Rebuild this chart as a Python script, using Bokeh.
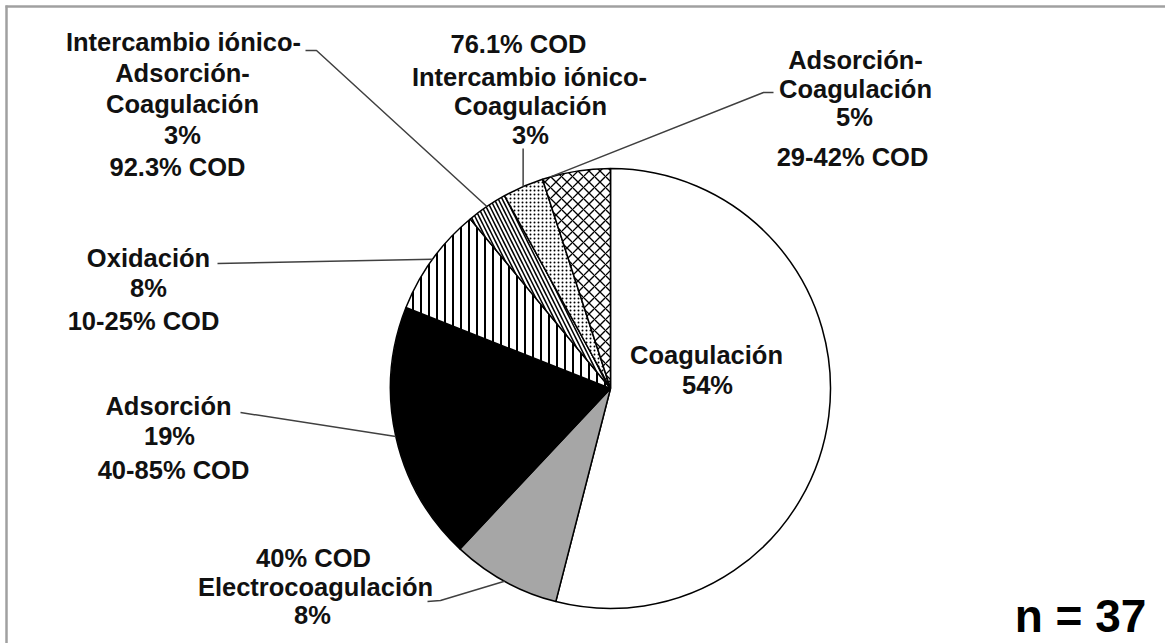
import math
from bokeh.plotting import figure
from bokeh.models import Range1d, ColumnDataSource
from bokeh.core.properties import value
from bokeh.embed import file_html
from bokeh.resources import INLINE

# ---------------- data ----------------
categories = ["Coagulación", "Electrocoagulación", "Adsorción", "Oxidación",
              "Intercambio iónico-Adsorción-Coagulación",
              "Intercambio iónico-Coagulación", "Adsorción-Coagulación"]
shares = [54, 8, 19, 8, 3, 3, 5]
cod = ["", "40% COD", "40-85% COD", "10-25% COD", "92.3% COD", "76.1% COD", "29-42% COD"]
fills = ["white", "#a6a6a6", "black", "white", "white", "white", "white"]
hatches = [" ", " ", " ", "vertical_line", "left_diagonal_line", "dot", "diagonal_cross"]
n_total = 37

# ---------------- layout ----------------
W, H = 1165, 643
def sy(y):
    return H - y

CX, CY, R = 610, sy(388), 220

p = figure(width=W, height=H, x_range=Range1d(0, W), y_range=Range1d(0, H),
           output_backend="svg", toolbar_location=None, min_border=0)
p.axis.visible = False
p.grid.visible = False
p.outline_line_color = None
p.background_fill_color = "white"

# frame lines (top and left)
p.line([6, 6], [sy(5), sy(643)], line_color="#a0a0a0", line_width=2.5)
p.line([5, 1165], [sy(6), sy(6)], line_color="#a0a0a0", line_width=2.5)

total = sum(shares)
cum = [0]
for s in shares:
    cum.append(cum[-1] + s / total)
start = [math.pi / 2 - 2 * math.pi * cum[i + 1] for i in range(len(shares))]
end = [math.pi / 2 - 2 * math.pi * cum[i] for i in range(len(shares))]

hs = [8, 8, 8, 8, 8, 4, 11]
hw = [1.5, 1.5, 1.5, 2.0, 1.5, 1.0, 1.3]
src = ColumnDataSource(dict(start=start, end=end, fill=fills, hatch=hatches, hs=hs, hw=hw))
p.wedge(x=CX, y=CY, radius=R, start_angle="start", end_angle="end", source=src,
        fill_color="fill", line_color="black", line_width=1.5,
        hatch_pattern="hatch", hatch_color="black", hatch_scale="hs", hatch_weight="hw")

def pie_point(i, frac=0.5):
    a = math.pi / 2 - 2 * math.pi * (cum[i] + frac * (cum[i + 1] - cum[i]))
    return CX + R * math.cos(a), CY + R * math.sin(a)

# leader lines: (slice index, fraction within slice, label-side points in screen coords)
leaders = [
    (1, 0.5, [(427, 601), (440, 600)]),
    (2, 0.5, [(240, 412)]),
    (3, 0.5, [(217, 263)]),
    (4, 0.5, [(305, 50), (316, 50)]),
    (5, 0.5, None),
    (6, 0.12, [(773, 92), (763, 92)]),
]
xs, ys = [], []
for i, frac, pts in leaders:
    px, py = pie_point(i, frac)
    if pts is None:
        pts = [(px, 148)]
    lx = [q[0] for q in pts] + [px]
    ly = [sy(q[1]) for q in pts] + [py]
    xs.append(lx)
    ys.append(ly)
p.multi_line(xs, ys, line_color="#404040", line_width=1.5)

pct = [f"{s}%" for s in shares]
name_lines = [c.replace("-", "-\n").split("\n") for c in categories]

labels = [
    (name_lines[0] + [pct[0]], [706, 707], [354, 384]),
    ([cod[1]] + name_lines[1] + [pct[1]], [313, 315, 312], [557, 586, 614]),
    (name_lines[2] + [pct[2], cod[2]], [168, 169, 173], [405, 435, 469]),
    (name_lines[3] + [pct[3], cod[3]], [148, 148, 143], [257, 287, 320]),
    (name_lines[4] + [pct[4], cod[4]], [183, 182, 182, 182, 177], [41, 72, 103, 134, 166]),
    ([cod[5]] + name_lines[5] + [pct[5]], [518, 529, 530, 530], [43, 76, 105, 134]),
    (name_lines[6] + [pct[6], cod[6]], [855, 855, 854, 852], [59, 88, 116, 156]),
]
tx, ty, tt = [], [], []
for lines, lxs, lys in labels:
    for t, x, y in zip(lines, lxs, lys):
        tx.append(x)
        ty.append(sy(y))
        tt.append(t)
p.text(tx, ty, text=tt, text_font=value("Liberation Sans"), text_font_style="bold",
       text_font_size="25.5px", text_align="center", text_baseline="middle", text_color="#111111")

p.text([1080], [sy(615)], text=[f"n = {n_total}"], text_font=value("Liberation Sans"),
       text_font_style="bold", text_font_size="46px", text_align="center",
       text_baseline="middle", text_color="black")

open("out.html", "w").write(file_html(p, INLINE))
